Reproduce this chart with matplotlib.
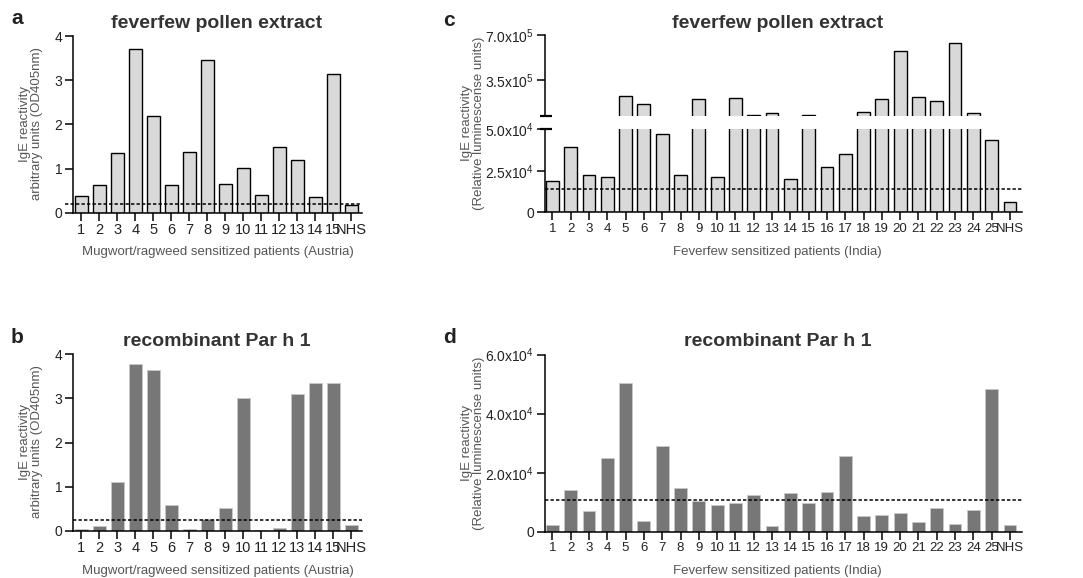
import numpy as np
import matplotlib.pyplot as plt

plt.rcParams['font.family'] = ['Liberation Sans', 'DejaVu Sans']
plt.rcParams['mathtext.fontset'] = 'custom'
plt.rcParams['mathtext.rm'] = 'Liberation Sans'

# patient labels
austria_labels = [str(i) for i in range(1, 16)] + ['NHS']
india_labels = [str(i) for i in range(1, 26)] + ['NHS']

# a: feverfew pollen extract, Austrian patients (OD405nm)
a_values = [0.38, 0.62, 1.36, 3.71, 2.19, 0.63, 1.38, 3.46, 0.66, 1.02,
            0.40, 1.49, 1.19, 0.36, 3.15, 0.17]
a_cutoff = 0.20

# b: recombinant Par h 1, Austrian patients (OD405nm)
b_values = [0.03, 0.10, 1.10, 3.77, 3.65, 0.59, 0.03, 0.27, 0.51, 3.02,
            0.01, 0.06, 3.09, 3.36, 3.35, 0.12]
b_cutoff = 0.25

# c: feverfew pollen extract, Indian patients (RLU)
c_values = [18.9e3, 39.2e3, 22.3e3, 21.1e3, 2.27e5, 1.60e5, 47.3e3, 22.3e3,
            2.04e5, 21.1e3, 2.11e5, 0.81e5, 0.92e5, 19.9e3, 0.78e5, 27.5e3,
            34.9e3, 1.02e5, 1.99e5, 5.79e5, 2.19e5, 1.86e5, 6.37e5, 0.94e5,
            43.7e3, 6.4e3]
c_cutoff = 14.0e3

# d: recombinant Par h 1, Indian patients (RLU)
d_values = [2.3e3, 14.1e3, 7.1e3, 25.0e3, 50.3e3, 3.7e3, 29.2e3, 14.7e3,
            10.4e3, 8.9e3, 9.7e3, 12.4e3, 1.9e3, 13.2e3, 9.7e3, 13.4e3,
            25.6e3, 5.2e3, 5.8e3, 6.3e3, 3.3e3, 7.9e3, 2.6e3, 7.3e3,
            48.4e3, 2.3e3]
d_cutoff = 10.8e3

W, H = 1083, 578
fig = plt.figure(figsize=(W / 100, H / 100), dpi=100)

LIGHT = '#d9d9d9'
DARK = '#777777'
TXT = '#333333'
LAB = '#555555'


def px_axes(left, top, right, bottom):
    return fig.add_axes([left / W, 1 - bottom / H, (right - left) / W, (bottom - top) / H])


def style(ax, xsize):
    for s in ['top', 'right']:
        ax.spines[s].set_visible(False)
    for s in ['left', 'bottom']:
        ax.spines[s].set_linewidth(1.1)
    ax.tick_params(length=5.5, width=1.1, pad=2, labelsize=10, colors='black',
                   labelcolor='#222222')
    ax.tick_params(axis='x', labelsize=xsize)


def bars(ax, values, labels, light, cutoff, xlim, xsize, dash_start=0.0):
    x = np.arange(len(values))
    if light:
        ax.bar(x, values, width=0.7, color=LIGHT, edgecolor='black', linewidth=1.0)
    else:
        ax.bar(x, values, width=0.7, color=DARK, edgecolor='#c8c8c8', linewidth=0.6)
    ax.plot([dash_start, 1], [cutoff, cutoff], transform=ax.get_yaxis_transform(),
            color='black', linestyle=(0, (2.2, 1.4)), linewidth=1.1, clip_on=False, zorder=5)
    ax.set_xlim(*xlim)
    ax.set_xticks(x)
    ax.set_xticklabels(labels)
    style(ax, xsize)


def sci(v, p):
    if v == 0:
        return '0'
    return '%.1fx10$^{%d}$' % (v / 10 ** p, p)


# ---- a ----
ax_a = px_axes(72.7, 36, 362, 212.7)
bars(ax_a, a_values, austria_labels, True, a_cutoff, (-0.48, 15.6), 10.5, dash_start=-0.027)
ax_a.set_ylim(0, 4)
ax_a.set_yticks([0, 1, 2, 3, 4])

# ---- b ----
ax_b = px_axes(72.7, 354.3, 362, 530.7)
bars(ax_b, b_values, austria_labels, False, b_cutoff, (-0.48, 15.6), 10.5)
ax_b.set_ylim(0, 4)
ax_b.set_yticks([0, 1, 2, 3, 4])

# ---- c (broken axis) ----
c_xlim = (-0.43, 25.64)
ax_ch = px_axes(544.5, 35.3, 1021.7, 116)
ax_cl = px_axes(544.5, 129.3, 1021.7, 212.3)
x = np.arange(len(c_values))
ax_ch.bar(x, c_values, width=0.7, color=LIGHT, edgecolor='black', linewidth=1.0)
ax_ch.set_xlim(*c_xlim)
ax_ch.set_ylim(7e4, 7e5)
ax_ch.set_yticks([3.5e5, 7e5])
ax_ch.set_yticklabels([sci(3.5e5, 5), sci(7e5, 5)])
style(ax_ch, 9.5)
ax_ch.spines['bottom'].set_visible(False)
ax_ch.tick_params(axis='x', bottom=False, labelbottom=False)

bars(ax_cl, c_values, india_labels, True, c_cutoff, c_xlim, 9.5)
ax_cl.set_ylim(0, 5e4)
ax_cl.set_yticks([0, 2.5e4, 5e4])
ax_cl.set_yticklabels(['0', sci(2.5e4, 4), sci(5e4, 4)])

# break caps on the y spine
for ax, yy in [(ax_ch, 0), (ax_cl, 1)]:
    ax.plot([-0.0094, 0.0157], [yy, yy], transform=ax.transAxes, color='black',
            linewidth=1.6, clip_on=False, solid_capstyle='butt')

# ---- d ----
ax_d = px_axes(544.5, 354.7, 1021.7, 531.7)
bars(ax_d, d_values, india_labels, False, d_cutoff, c_xlim, 9.5)
ax_d.set_ylim(0, 6e4)
ax_d.set_yticks([0, 2e4, 4e4, 6e4])
ax_d.set_yticklabels(['0', sci(2e4, 4), sci(4e4, 4), sci(6e4, 4)])


def ftext(xp, yp, s, **kw):
    fig.text(xp / W, 1 - yp / H, s, **kw)


# titles
ftext(217, 23, 'feverfew pollen extract', ha='center', va='center', fontsize=14,
      fontweight='bold', color=TXT)
ftext(217, 342, 'recombinant Par h 1', ha='center', va='center', fontsize=14,
      fontweight='bold', color=TXT)
ftext(778, 23, 'feverfew pollen extract', ha='center', va='center', fontsize=14,
      fontweight='bold', color=TXT)
ftext(778, 342, 'recombinant Par h 1', ha='center', va='center', fontsize=14,
      fontweight='bold', color=TXT)

# panel letters
for xp, yp, s in [(11, 24, 'a'), (11, 343, 'b'), (443, 26, 'c'), (443, 343, 'd')]:
    ftext(xp, yp, s, ha='left', va='baseline', fontsize=15, fontweight='bold', color='#222222')

# axis labels
ylab_a = 'IgE reactivity\narbitrary units (OD405nm)'
ylab_c = 'IgE reactivity\n(Relative luminescense units)'
ftext(31, 124, ylab_a, rotation=90, ha='center', va='center', fontsize=9.5,
      color=LAB, linespacing=1.05, multialignment='center')
ftext(31, 442, ylab_a, rotation=90, ha='center', va='center', fontsize=9.5,
      color=LAB, linespacing=1.05, multialignment='center')
ftext(473, 123, ylab_c, rotation=90, ha='center', va='center', fontsize=9.5,
      color=LAB, linespacing=1.05, multialignment='center')
ftext(473, 443, ylab_c, rotation=90, ha='center', va='center', fontsize=9.5,
      color=LAB, linespacing=1.05, multialignment='center')

xlab_a = 'Mugwort/ragweed sensitized patients (Austria)'
xlab_c = 'Feverfew sensitized patients (India)'
ftext(218, 252, xlab_a, ha='center', va='center', fontsize=9.5, color=LAB)
ftext(218, 571, xlab_a, ha='center', va='center', fontsize=9.5, color=LAB)
ftext(777, 252, xlab_c, ha='center', va='center', fontsize=9.5, color=LAB)
ftext(777, 571, xlab_c, ha='center', va='center', fontsize=9.5, color=LAB)

fig.savefig('out.png', dpi=100)
